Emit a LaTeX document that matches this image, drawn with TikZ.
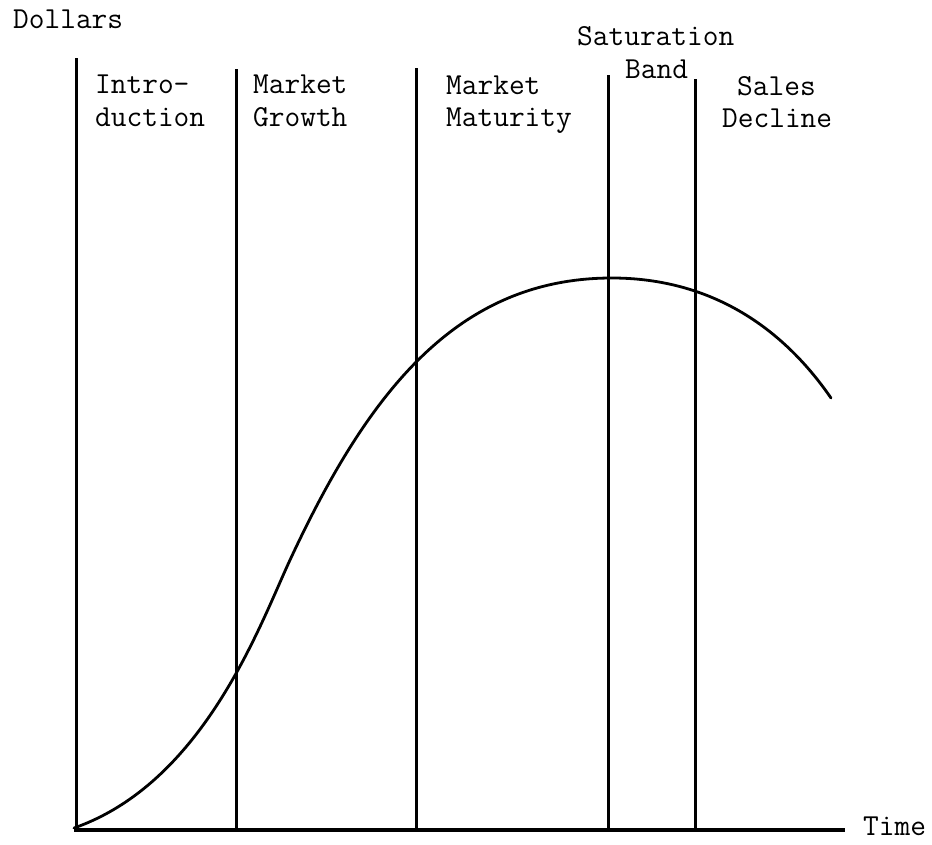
\documentclass[tikz,border=0pt]{standalone}
\usepackage{fontspec}
\begin{document}
\begin{tikzpicture}[x=1pt,y=-1pt,
  lbl/.style={anchor=base west,inner sep=0pt,font=\ttfamily\fontsize{30.5}{33}\selectfont},
  divider/.style={line width=3pt},
  axisline/.style={line width=4.5pt},
  curveline/.style={line width=2.8pt,line cap=round}]
\useasboundingbox (0,0) rectangle (932,844);
% axes
\coordinate (ytop) at (76,58);
\coordinate (ybot) at (76,830);
\coordinate (origin) at (74,830);
\coordinate (xend) at (845,830);
\draw[divider] (ytop) -- (ybot);
\draw[axisline] (origin) -- (xend);
% dividers
\coordinate (d2t) at (236,69);   \coordinate (d2b) at (236,830);
\coordinate (d3t) at (416,68);   \coordinate (d3b) at (416,830);
\coordinate (d4t) at (608,75);   \coordinate (d4b) at (608,830);
\coordinate (d5t) at (695,79);   \coordinate (d5b) at (695,830);
\draw[divider] (d2t) -- (d2b);
\draw[divider] (d3t) -- (d3b);
\draw[divider] (d4t) -- (d4b);
\draw[divider] (d5t) -- (d5b);
% curve
\coordinate (c0) at (74,828);
\coordinate (c1) at (290,560);
\coordinate (peak) at (612,278);
\coordinate (cend) at (831,398);
\draw[curveline] (c0) .. controls (204,782.5) and (260,624.5) .. (c1)
  .. controls (368,392.3) and (457,278) .. (peak)
  .. controls (692,278) and (771,311) .. (cend);
% labels
\node[lbl] (dollars) at (13,28) {Dollars};
\node[lbl] (intro1) at (95,93) {Intro-};
\node[lbl] (intro2) at (95,126) {duction};
\node[lbl] (growth1) at (253,93) {Market};
\node[lbl] (growth2) at (253,126) {Growth};
\node[lbl] (mat1) at (446,94) {Market};
\node[lbl] (mat2) at (446,126) {Maturity};
\node[lbl] (sat1) at (577,45) {Saturation};
\node[lbl] (sat2) at (625,78) {Band};
\node[lbl] (dec1) at (737,95) {Sales};
\node[lbl] (dec2) at (722,127) {Decline};
\node[lbl] (time) at (863,835) {Time};
\end{tikzpicture}
\end{document}
